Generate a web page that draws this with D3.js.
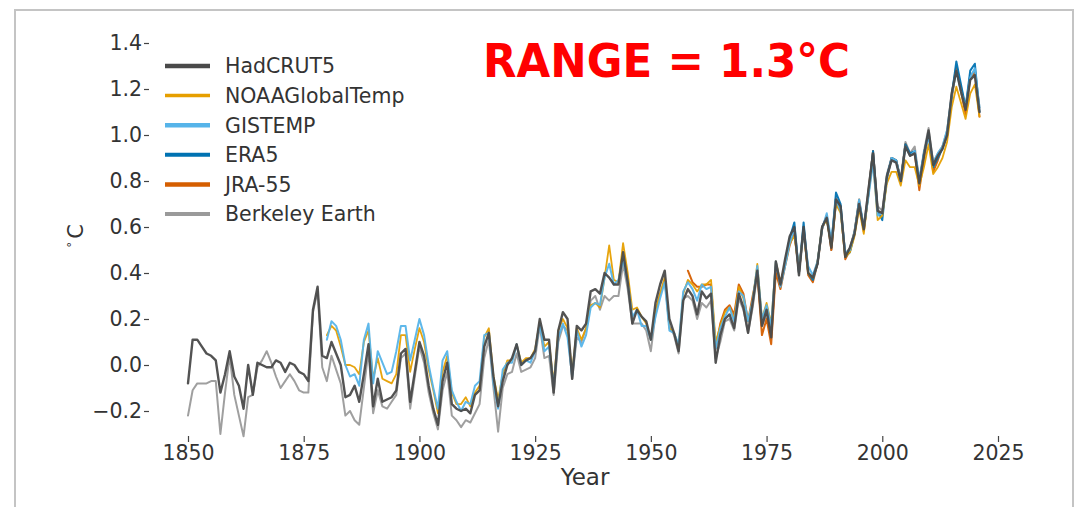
<!DOCTYPE html>
<html>
<head>
<meta charset="utf-8">
<script src="https://cdn.jsdelivr.net/npm/d3@7"></script>
<style>
  html, body { margin: 0; padding: 0; background: #fff; }
  svg { display: block; }
  text { font-family: "DejaVu Sans", sans-serif; }
</style>
</head>
<body>
<svg id="chart" width="1075" height="507"></svg>
<script>
// Global mean surface temperature anomalies (°C, relative to 1850–1900)

const hadcrutStart = 1850;
const hadcrut5 = [
  -0.08, 0.11, 0.11, 0.08, 0.05, 0.04, 0.02, -0.12, -0.04, 0.06,
  -0.05, -0.09, -0.19, 0.00, -0.13, 0.01, 0.00, -0.01, -0.01, 0.02,
  0.01, -0.03, 0.01, 0.00, -0.03, -0.04, -0.07, 0.24, 0.34, 0.04,
  0.03, 0.10, 0.05, 0.00, -0.14, -0.13, -0.09, -0.16, -0.04, 0.09,
  -0.18, -0.06, -0.16, -0.15, -0.14, -0.11, 0.05, 0.07, -0.16, -0.03,
  0.10, 0.04, -0.09, -0.19, -0.26, -0.07, 0.01, -0.17, -0.19, -0.20,
  -0.19, -0.21, -0.13, -0.11, 0.08, 0.14, -0.05, -0.18, -0.07, 0.00,
  0.03, 0.09, 0.00, 0.02, 0.03, 0.06, 0.20, 0.11, 0.11, -0.12,
  0.15, 0.23, 0.20, -0.06, 0.17, 0.15, 0.18, 0.32, 0.33, 0.31,
  0.40, 0.38, 0.35, 0.35, 0.49, 0.36, 0.18, 0.24, 0.21, 0.19,
  0.11, 0.27, 0.35, 0.41, 0.20, 0.14, 0.06, 0.28, 0.33, 0.30,
  0.22, 0.32, 0.29, 0.31, 0.01, 0.13, 0.20, 0.22, 0.16, 0.31,
  0.25, 0.14, 0.27, 0.41, 0.17, 0.24, 0.12, 0.45, 0.35, 0.46,
  0.56, 0.60, 0.39, 0.60, 0.40, 0.38, 0.44, 0.60, 0.64, 0.51,
  0.72, 0.69, 0.47, 0.51, 0.57, 0.70, 0.59, 0.76, 0.92, 0.67,
  0.66, 0.82, 0.89, 0.88, 0.80, 0.95, 0.91, 0.92, 0.79, 0.91,
  1.02, 0.87, 0.91, 0.94, 1.00, 1.18, 1.28, 1.19, 1.11, 1.24,
  1.26, 1.10
];

const noaaStart = 1880;
const noaaGlobalTemp = [
  0.13, 0.17, 0.15, 0.08, 0.00, 0.00, -0.01, -0.04, 0.10, 0.15,
  -0.06, 0.03, -0.06, -0.07, -0.08, -0.04, 0.13, 0.13, -0.03, 0.07,
  0.16, 0.10, -0.02, -0.11, -0.21, -0.03, 0.04, -0.12, -0.17, -0.17,
  -0.14, -0.18, -0.12, -0.09, 0.12, 0.16, -0.05, -0.15, -0.04, 0.02,
  0.02, 0.09, 0.01, 0.03, 0.03, 0.07, 0.19, 0.08, 0.10, -0.08,
  0.15, 0.20, 0.16, -0.03, 0.16, 0.11, 0.16, 0.26, 0.27, 0.25,
  0.38, 0.52, 0.37, 0.36, 0.53, 0.40, 0.24, 0.25, 0.21, 0.18,
  0.11, 0.24, 0.31, 0.38, 0.16, 0.14, 0.08, 0.31, 0.37, 0.35,
  0.32, 0.35, 0.35, 0.37, 0.10, 0.17, 0.23, 0.25, 0.20, 0.34,
  0.29, 0.19, 0.28, 0.44, 0.20, 0.27, 0.18, 0.45, 0.36, 0.44,
  0.53, 0.56, 0.42, 0.58, 0.40, 0.38, 0.45, 0.60, 0.63, 0.52,
  0.70, 0.66, 0.47, 0.49, 0.56, 0.68, 0.57, 0.74, 0.89, 0.63,
  0.65, 0.79, 0.84, 0.84, 0.78, 0.89, 0.86, 0.86, 0.78, 0.86,
  0.96, 0.83, 0.86, 0.90, 0.97, 1.12, 1.21, 1.14, 1.07, 1.18,
  1.22, 1.08
];

const gistempStart = 1880;
const gistemp = [
  0.11, 0.19, 0.17, 0.11, 0.00, -0.05, -0.04, -0.09, 0.11, 0.18,
  -0.08, 0.06, 0.01, -0.04, -0.03, 0.06, 0.17, 0.17, 0.02, 0.11,
  0.20, 0.13, 0.00, -0.10, -0.19, 0.02, 0.06, -0.11, -0.16, -0.20,
  -0.16, -0.17, -0.09, -0.07, 0.13, 0.14, -0.08, -0.19, -0.02, 0.01,
  0.01, 0.09, 0.00, 0.02, 0.01, 0.06, 0.18, 0.06, 0.08, -0.09,
  0.12, 0.18, 0.12, -0.05, 0.15, 0.08, 0.13, 0.25, 0.27, 0.26,
  0.38, 0.44, 0.35, 0.37, 0.46, 0.36, 0.21, 0.24, 0.17, 0.17,
  0.11, 0.21, 0.29, 0.36, 0.15, 0.14, 0.09, 0.32, 0.36, 0.33,
  0.28, 0.35, 0.33, 0.34, 0.07, 0.16, 0.21, 0.25, 0.19, 0.32,
  0.30, 0.19, 0.28, 0.43, 0.20, 0.26, 0.17, 0.45, 0.34, 0.43,
  0.53, 0.59, 0.41, 0.58, 0.43, 0.39, 0.45, 0.59, 0.66, 0.54,
  0.72, 0.67, 0.49, 0.50, 0.58, 0.72, 0.60, 0.73, 0.88, 0.65,
  0.66, 0.81, 0.90, 0.89, 0.80, 0.95, 0.91, 0.93, 0.81, 0.92,
  0.99, 0.88, 0.92, 0.95, 1.02, 1.17, 1.28, 1.19, 1.12, 1.25,
  1.29, 1.12
];

const era5Start = 1979;
const era5 = [
  0.45, 0.55, 0.62, 0.40, 0.62, 0.40, 0.37, 0.44, 0.60, 0.64,
  0.52, 0.75, 0.70, 0.47, 0.49, 0.57, 0.71, 0.59, 0.74, 0.93,
  0.67, 0.63, 0.82, 0.90, 0.89, 0.80, 0.96, 0.92, 0.93, 0.79,
  0.92, 1.01, 0.86, 0.90, 0.94, 1.00, 1.17, 1.32, 1.22, 1.12,
  1.28, 1.31, 1.10
];

const jra55Start = 1958;
const jra55 = [
  0.41, 0.36, 0.34, 0.34, 0.35, 0.35, 0.07, 0.18, 0.24, 0.26,
  0.22, 0.35, 0.31, 0.19, 0.30, 0.40, 0.13, 0.20, 0.09, 0.40,
  0.33, 0.43, 0.52, 0.58, 0.40, 0.59, 0.39, 0.36, 0.44, 0.59,
  0.65, 0.50, 0.71, 0.68, 0.46, 0.50, 0.58, 0.72, 0.58, 0.75,
  0.93, 0.67, 0.66, 0.81, 0.90, 0.89, 0.80, 0.96, 0.91, 0.92,
  0.76, 0.90, 1.01, 0.84, 0.89, 0.95, 1.00, 1.16, 1.29, 1.19,
  1.09, 1.25, 1.27, 1.08
];

const berkeleyStart = 1850;
const berkeleyEarth = [
  -0.22, -0.11, -0.08, -0.08, -0.08, -0.07, -0.07, -0.30, -0.12, 0.04,
  -0.13, -0.22, -0.31, -0.14, -0.13, -0.01, 0.02, 0.06, 0.01, -0.05,
  -0.10, -0.07, -0.04, -0.07, -0.11, -0.12, -0.12, 0.23, 0.32, -0.01,
  -0.07, 0.04, -0.02, -0.08, -0.22, -0.20, -0.24, -0.26, -0.10, 0.06,
  -0.21, -0.11, -0.18, -0.19, -0.16, -0.13, 0.03, 0.05, -0.19, -0.05,
  0.08, 0.01, -0.12, -0.21, -0.28, -0.11, -0.03, -0.22, -0.24, -0.27,
  -0.24, -0.25, -0.21, -0.17, 0.03, 0.11, -0.10, -0.29, -0.10, -0.04,
  -0.03, 0.05, -0.03, -0.02, -0.01, 0.03, 0.17, 0.03, 0.04, -0.13,
  0.10, 0.17, 0.15, -0.06, 0.12, 0.10, 0.16, 0.28, 0.30, 0.24,
  0.30, 0.28, 0.30, 0.30, 0.44, 0.33, 0.18, 0.18, 0.18, 0.15,
  0.06, 0.22, 0.31, 0.37, 0.17, 0.13, 0.05, 0.29, 0.30, 0.28,
  0.20, 0.27, 0.25, 0.28, 0.03, 0.10, 0.19, 0.20, 0.15, 0.29,
  0.24, 0.14, 0.25, 0.40, 0.17, 0.22, 0.12, 0.43, 0.34, 0.44,
  0.53, 0.59, 0.40, 0.60, 0.40, 0.38, 0.44, 0.60, 0.65, 0.50,
  0.73, 0.69, 0.48, 0.51, 0.58, 0.71, 0.60, 0.76, 0.93, 0.69,
  0.67, 0.83, 0.90, 0.89, 0.81, 0.97, 0.92, 0.95, 0.80, 0.93,
  1.03, 0.88, 0.92, 0.95, 1.02, 1.18, 1.30, 1.21, 1.12, 1.26,
  1.28, 1.12
];

const xTicks = [1850, 1875, 1900, 1925, 1950, 1975, 2000, 2025];
const yTicks = [-0.2, 0.0, 0.2, 0.4, 0.6, 0.8, 1.0, 1.2, 1.4];

// Series in legend order, with their colours
const seriesList = [
  { name: "HadCRUT5",       start: hadcrutStart,  values: hadcrut5,       color: "#4a4a4a", width: 2.4, legendWidth: 4.5 },
  { name: "NOAAGlobalTemp", start: noaaStart,     values: noaaGlobalTemp, color: "#e69f00", width: 1.8, legendWidth: 3.5 },
  { name: "GISTEMP",        start: gistempStart,  values: gistemp,        color: "#56b4e9", width: 2.0, legendWidth: 4.5 },
  { name: "ERA5",           start: era5Start,     values: era5,           color: "#0072b2", width: 2.0, legendWidth: 4 },
  { name: "JRA-55",         start: jra55Start,    values: jra55,          color: "#d55e00", width: 2.0, legendWidth: 4.5 },
  { name: "Berkeley Earth", start: berkeleyStart, values: berkeleyEarth,  color: "#9a9a9a", width: 2.0, legendWidth: 4 }
];

// Draw order: lightest underneath, HadCRUT5 on top
const drawOrder = ["Berkeley Earth", "JRA-55", "ERA5", "NOAAGlobalTemp", "GISTEMP", "HadCRUT5"];

const svg = d3.select("#chart");

svg.append("rect")
  .attr("x", 0).attr("y", 0).attr("width", 1075).attr("height", 507)
  .attr("fill", "#ffffff");

// Outer frame
svg.append("path")
  .attr("d", "M15,520 L15,10 L1073,10 L1073,520")
  .attr("fill", "none")
  .attr("stroke", "#c4c4c4")
  .attr("stroke-width", 2);

const x = d3.scaleLinear().domain([1850, 2025]).range([188, 998]);
const y = d3.scaleLinear().domain([-0.2, 1.4]).range([411, 43]);

const textColor = "#333333";
const tickFont = "20.5px";

// X axis
const xAxis = svg.append("g")
  .attr("transform", "translate(0,436)")
  .call(d3.axisBottom(x).tickValues(xTicks).tickFormat(d3.format("d")).tickSize(6).tickPadding(3));
xAxis.select(".domain").remove();
xAxis.selectAll(".tick line").attr("stroke", "#444").attr("stroke-width", 1.2);
xAxis.selectAll(".tick text")
  .attr("fill", textColor)
  .style("font-size", tickFont)
  .style("font-family", "DejaVu Sans, sans-serif");

// Y axis
const yAxis = svg.append("g")
  .attr("transform", "translate(149,0)")
  .call(d3.axisLeft(y).tickValues(yTicks).tickFormat(d3.format(".1f")).tickSize(5).tickPadding(2));
yAxis.select(".domain").remove();
yAxis.selectAll(".tick line").attr("stroke", "#444").attr("stroke-width", 1.2);
yAxis.selectAll(".tick text")
  .attr("fill", textColor)
  .style("font-size", tickFont)
  .style("font-family", "DejaVu Sans, sans-serif");

// Axis titles
svg.append("text")
  .attr("x", 585).attr("y", 485)
  .attr("text-anchor", "middle")
  .attr("fill", textColor)
  .style("font-size", "23px")
  .text("Year");

const yTitle = svg.append("text")
  .attr("transform", "translate(83,236) rotate(-90)")
  .attr("text-anchor", "middle")
  .attr("fill", textColor)
  .style("font-size", "21px");
yTitle.append("tspan").style("font-size", "12px").attr("dy", "-0.55em").text("°");
yTitle.append("tspan").attr("dx", "3").attr("dy", "0.33em").text("C");

// Series lines
const line = d3.line()
  .x(d => x(d.year))
  .y(d => y(d.value));

const byName = new Map(seriesList.map(s => [s.name, s]));
const linesG = svg.append("g").attr("fill", "none").attr("stroke-linejoin", "round").attr("stroke-linecap", "round");
drawOrder.forEach(name => {
  const s = byName.get(name);
  const pts = s.values.map((v, i) => ({ year: s.start + i, value: v }));
  linesG.append("path")
    .datum(pts)
    .attr("d", line)
    .attr("stroke", s.color)
    .attr("stroke-width", s.width)
    .attr("stroke-opacity", 0.95);
});

// Legend
const legend = svg.append("g");
seriesList.forEach((s, i) => {
  const ly = 66 + i * 29.6;
  legend.append("line")
    .attr("x1", 165).attr("x2", 210)
    .attr("y1", ly).attr("y2", ly)
    .attr("stroke", s.color)
    .attr("stroke-width", s.legendWidth);
  legend.append("text")
    .attr("x", 225).attr("y", ly)
    .attr("dy", "0.36em")
    .attr("fill", textColor)
    .style("font-size", "20.5px")
    .text(s.name);
});

// Headline
svg.append("text")
  .attr("x", 483).attr("y", 77)
  .attr("fill", "#ff0000")
  .attr("textLength", 367)
  .attr("lengthAdjust", "spacingAndGlyphs")
  .style("font-family", "'DejaVu Sans Condensed', 'DejaVu Sans', sans-serif")
  .style("font-stretch", "condensed")
  .style("font-weight", "bold")
  .style("font-size", "47px")
  .text("RANGE = 1.3°C");
</script>
</body>
</html>
